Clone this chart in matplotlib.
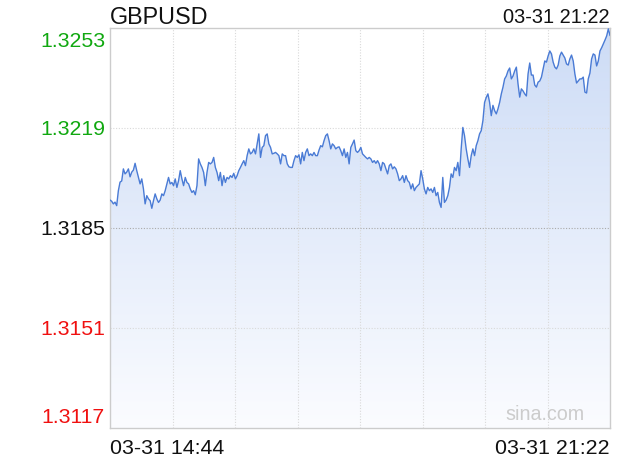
import numpy as np
import matplotlib
matplotlib.use("Agg")
import matplotlib.pyplot as plt
from matplotlib.colors import LinearSegmentedColormap
from matplotlib.transforms import ScaledTranslation, blended_transform_factory

plt.rcParams['font.family'] = ['Liberation Sans', 'DejaVu Sans']

symbol = "GBPUSD"
start_label = "03-31 14:44"
end_label = "03-31 21:22"
span_minutes = 398

prices_a = [1.31946, 1.31942, 1.31933, 1.31939, 1.31927, 1.31978, 1.32007, 1.32011, 1.32052, 1.32035,
            1.32041, 1.32052, 1.32025, 1.32041, 1.32048, 1.32071, 1.32046, 1.32024, 1.32001, 1.32018,
            1.31984, 1.31933, 1.31961, 1.31950, 1.31944, 1.31918, 1.31944, 1.31967, 1.31950, 1.31938,
            1.31946, 1.31967, 1.31961, 1.31978, 1.32001, 1.32023, 1.32001, 1.32006, 1.31995, 1.32018,
            1.31989, 1.32012, 1.32046, 1.32018, 1.31995, 1.32023, 1.32006, 1.32001, 1.31984, 1.31972,
            1.31978, 1.31964, 1.31995]
prices_b = [1.32086, 1.32069, 1.32057, 1.32040, 1.31995, 1.32040, 1.32074, 1.32069, 1.32074, 1.32091,
            1.32057, 1.32040, 1.32012, 1.32040, 1.31995, 1.32029, 1.32006, 1.32023, 1.32018, 1.32029,
            1.32023, 1.32037, 1.32018, 1.32029, 1.32046, 1.32057, 1.32069, 1.32080, 1.32063, 1.32097,
            1.32120, 1.32103, 1.32108, 1.32120, 1.32103, 1.32137, 1.32171, 1.32091, 1.32125, 1.32131,
            1.32165, 1.32171, 1.32137, 1.32125, 1.32103, 1.32105, 1.32108, 1.32103, 1.32097, 1.32069,
            1.32103, 1.32097]
prices_c = [1.32097, 1.32069, 1.32059, 1.32057, 1.32057, 1.32080, 1.32097, 1.32091, 1.32100, 1.32069,
            1.32108, 1.32080, 1.32108, 1.32120, 1.32097, 1.32103, 1.32097, 1.32108, 1.32097, 1.32097,
            1.32116, 1.32131, 1.32127, 1.32148, 1.32165, 1.32171, 1.32148, 1.32120, 1.32137, 1.32131,
            1.32120, 1.32125, 1.32127, 1.32114, 1.32097, 1.32120, 1.32091, 1.32108, 1.32069, 1.32125,
            1.32137, 1.32150, 1.32114, 1.32108, 1.32114, 1.32125, 1.32103, 1.32097, 1.32091, 1.32086,
            1.32091, 1.32086]
prices_d = [1.32074, 1.32080, 1.32071, 1.32080, 1.32069, 1.32046, 1.32074, 1.32069, 1.32052, 1.32035,
            1.32063, 1.32069, 1.32052, 1.32059, 1.32052, 1.32035, 1.32012, 1.32018, 1.32029, 1.32006,
            1.32029, 1.32012, 1.32006, 1.31984, 1.32001, 1.31978, 1.31989, 1.31995, 1.32001, 1.32046,
            1.32018, 1.31984, 1.31967, 1.31989, 1.31978, 1.31984, 1.31972, 1.31989, 1.31961, 1.31972,
            1.31938, 1.31921, 1.32023, 1.31938, 1.31946, 1.31961, 1.31989, 1.32035, 1.32023, 1.32057,
            1.32046, 1.32074]
prices_e = [1.32029, 1.32120, 1.32193, 1.32165, 1.32120, 1.32086, 1.32057, 1.32097, 1.32120, 1.32097,
            1.32131, 1.32148, 1.32171, 1.32182, 1.32216, 1.32278, 1.32295, 1.32307, 1.32278, 1.32233,
            1.32268, 1.32250, 1.32239, 1.32256, 1.32278]
prices_f = [1.32307, 1.32330, 1.32358, 1.32368, 1.32385, 1.32395, 1.32358, 1.32368, 1.32385, 1.32398,
            1.32341, 1.32296, 1.32324, 1.32317, 1.32307, 1.32300, 1.32375, 1.32412, 1.32371, 1.32371,
            1.32337, 1.32330, 1.32347, 1.32351, 1.32364, 1.32392, 1.32419, 1.32415, 1.32436, 1.32453,
            1.32443, 1.32415, 1.32398, 1.32392, 1.32405, 1.32436, 1.32449, 1.32439, 1.32429, 1.32409,
            1.32405, 1.32426, 1.32439, 1.32419, 1.32375, 1.32344, 1.32351, 1.32358, 1.32358, 1.32364,
            1.32313, 1.32310, 1.32358, 1.32378, 1.32426, 1.32443, 1.32439, 1.32402, 1.32419, 1.32453,
            1.32464, 1.32477, 1.32490, 1.32504, 1.32528, 1.32506]

y_ticks = [1.3253, 1.3219, 1.3185, 1.3151, 1.3117]
y_tick_labels = ["1.3253", "1.3219", "1.3185", "1.3151", "1.3117"]
prev_close = 1.3185

prices = np.array(prices_a + prices_b + prices_c + prices_d + prices_e + prices_f)
minutes = np.linspace(0, span_minutes, len(prices))

W, H = 620, 460
fig = plt.figure(figsize=(W / 100, H / 100), dpi=100)
ax = fig.add_axes([110 / W, (H - 429.3) / H, 500 / W, 400 / H])
ymin, ymax = min(y_ticks), max(y_ticks)
ax.set_xlim(0, span_minutes)
ax.set_ylim(ymin, ymax)

# gradient fill under the line
cmap = LinearSegmentedColormap.from_list("g", ["#fbfcff", "#cddcf6"])
grad = np.linspace(0, 1, 256).reshape(-1, 1)
img = ax.imshow(grad, cmap=cmap, aspect='auto', origin='lower',
                extent=[0, span_minutes, ymin, ymax], zorder=1)
poly = ax.fill_between(minutes, prices, ymin, color='none', lw=0)
img.set_clip_path(poly.get_paths()[0], transform=ax.transData)

# grid
for k in range(1, 8):
    ax.axvline(span_minutes * k / 8, color='#d9d9d9', lw=0.8, ls=(0, (1, 1.5)), zorder=2)
for v in y_ticks[1:-1]:
    c = '#aaaaaa' if v == prev_close else '#d9d9d9'
    ax.axhline(v, color=c, lw=0.8, ls=(0, (1, 1.5)), zorder=2)

ax.plot(minutes, prices, color='#4a7bd5', lw=1.0, zorder=3)

ax.set_xticks([])
ax.set_yticks([])
for s in ax.spines.values():
    s.set_color('#cccccc')
    s.set_linewidth(1.0)

# y labels
trans = blended_transform_factory(ax.transAxes, ax.transData)
px = 72 / 100
for v, lab in zip(y_ticks, y_tick_labels):
    if v > prev_close:
        col = '#10a810'
    elif v < prev_close:
        col = '#f01010'
    else:
        col = '#111111'
    if v == ymax:
        dy = -17.4
    elif v == ymin:
        dy = 6.3
    else:
        dy = -5.7
    t = trans + ScaledTranslation(-5 / 100, dy / 100, fig.dpi_scale_trans)
    ax.text(0, v, lab, transform=t, ha='right', va='baseline', color=col, fontsize=15.3)

# header and footer
fig.text(110 / W, 1 - 24 / H, symbol, ha='left', va='baseline', fontsize=16.8, color='#111111')
fig.text(610 / W, 1 - 22.7 / H, end_label, ha='right', va='baseline', fontsize=14.4, color='#111111')
fig.text(110 / W, 1 - 454 / H, start_label, ha='left', va='baseline', fontsize=15.4, color='#111111')
fig.text(610 / W, 1 - 454 / H, end_label, ha='right', va='baseline', fontsize=15.4, color='#111111')
fig.text(585 / W, 1 - 420 / H, "sina.com", ha='right', va='baseline', fontsize=14.2, color='#cccccc')

fig.savefig("out.png", dpi=100)
